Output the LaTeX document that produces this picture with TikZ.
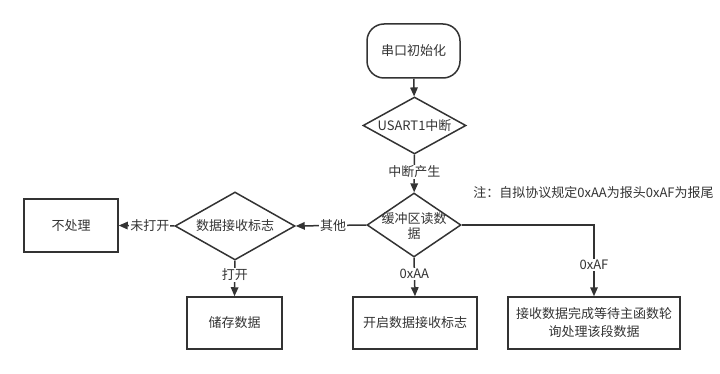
\documentclass[tikz,border=0pt]{standalone}
\usepackage{fontspec}
\setmainfont{Noto Sans CJK SC}
\usetikzlibrary{shapes.geometric,arrows.meta}
\definecolor{ln}{HTML}{333333}
\begin{document}
\begin{tikzpicture}[x=1pt,y=-1pt,
  font=\fontsize{13pt}{15pt}\selectfont,
  every node/.style={text=ln},
  box/.style={draw=ln,line width=1.5pt,rectangle,inner sep=0pt,align=center},
  startbox/.style={box,rounded corners=17pt},
  diam/.style={draw=ln,line width=1.5pt,diamond,inner sep=0pt},
  flow/.style={draw=ln,line width=1.5pt,-{Triangle[length=9pt,width=7.5pt]}},
  lab/.style={fill=white,inner sep=1pt}]
\useasboundingbox (0,0) rectangle (720,374);
\node[startbox,minimum width=93pt,minimum height=54pt] (s) at (413.5,51) {串口初始化};
\node[diam,minimum width=103pt,minimum height=57pt] (d1) at (414.5,125.5) {};
\node (d1t) at (d1) {USART1中断};
\node[diam,minimum width=94pt,minimum height=64pt] (d2) at (414,225) {};
\node[align=center,font=\fontsize{13pt}{15pt}\selectfont] (d2t) at (414,226.5) {缓冲区读数\\据};
\node[diam,minimum width=120pt,minimum height=68pt] (d3) at (235,226) {};
\node (d3t) at (d3) {数据接收标志};
\node[box,minimum width=94pt,minimum height=53pt] (b1) at (71,225.5) {不处理};
\node[box,minimum width=95pt,minimum height=52pt] (b2) at (234.5,323) {储存数据};
\node[box,minimum width=124pt,minimum height=52pt] (b3) at (415,323) {开启数据接收标志};
\node[box,minimum width=172pt,minimum height=52pt,font=\fontsize{13pt}{18pt}\selectfont] (b4) at (594,323) {接收数据完成等待主函数轮\\询处理该段数据};
\node (note) at (593.5,193) {注：自拟协议规定0xAA为报头0xAF为报尾};
\draw[flow] (s) -- (d1);
\draw[flow] (d1) -- node[lab,pos=0.46] {中断产生} (d2);
\draw[flow] (d2.west) -- node[lab,pos=0.47] {其他} (d3.east);
\draw[flow] (d3.west) -- node[lab,pos=0.44] {未打开} (b1.east);
\draw[flow] (d3.south) -- node[lab,pos=0.4] {打开} (b2.north);
\draw[flow] (d2.south) -- node[lab,pos=0.43] {0xAA} (b3.north);
\draw[flow] (d2.east) -| node[lab,pos=0.78] {0xAF} (b4.north);
\end{tikzpicture}
\end{document}
